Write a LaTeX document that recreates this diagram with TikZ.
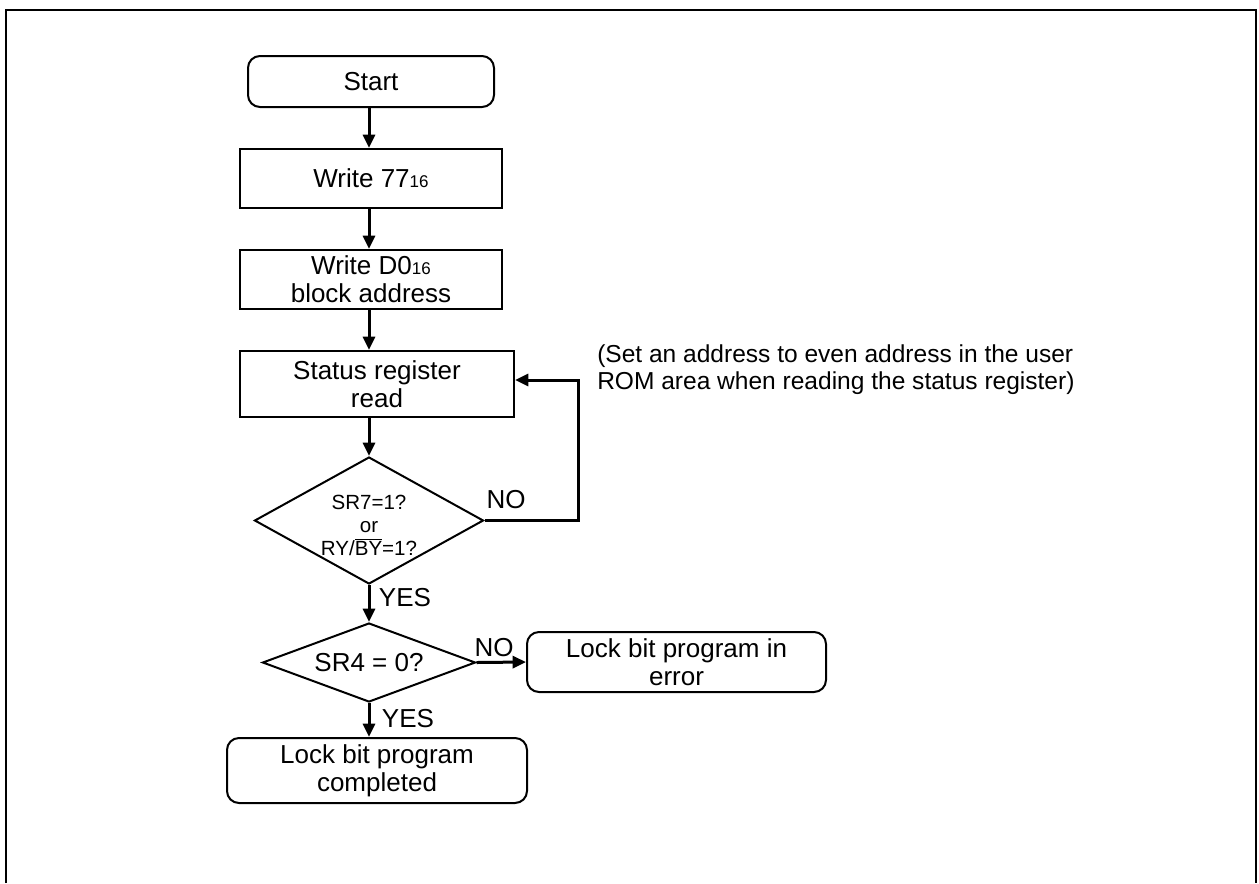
\documentclass[tikz,border=0pt]{standalone}
\usepackage{fontspec}
\setmainfont{Liberation Sans}
\usetikzlibrary{arrows.meta,shapes.geometric}
\newcommand\mfnt{\fontsize{19.5pt}{21pt}\selectfont}
\newcommand\dfnt{\fontsize{15.4pt}{17.2pt}\selectfont}
\newcommand\afnt{\fontsize{18.4pt}{20.25pt}\selectfont}
\newcommand\subsz[1]{{\fontsize{12.75pt}{14pt}\selectfont #1}}
\begin{document}
\begin{tikzpicture}[x=0.75pt,y=-0.75pt,
  box/.style={draw,line width=1.5pt,inner sep=0pt,align=center,font=\mfnt},
  rbox/.style={box,rounded corners=9pt},
  dia/.style={draw,diamond,line width=1.5pt,inner sep=0pt},
  conn/.style={line width=2.25pt,-{Triangle[length=10pt,width=9pt]}},
  lbl/.style={inner sep=0pt,font=\mfnt}]
\useasboundingbox (0,0) rectangle (1259,883);
\draw[line width=1.5pt] (6,883) -- (6,10) -- (1256,10) -- (1256,883);

\node[rbox,minimum width=184.5pt,minimum height=38.25pt] (start) at (371,81.5) {Start};
\node[box,minimum width=196.5pt,minimum height=44.25pt] (w77) at (371,178.5) {Write 77\subsz{16}};
\node[box,minimum width=196.5pt,minimum height=44.25pt] (wd0) at (371,279.5) {Write D0\subsz{16}\\block address};
\node[box,minimum width=205.5pt,minimum height=49.5pt] (status) at (377,384) {Status register\\read};
\node[dia,minimum width=171.75pt,minimum height=95.25pt] (d1) at (369,520.5) {};
\node[align=center,inner sep=0pt,font=\dfnt] (d1t) at (369,525) {SR7=1?\\or\\RY/$\overline{\mbox{BY}}$=1?};
\node[dia,minimum width=159.75pt,minimum height=59.25pt] (d2) at (369,662.5) {};
\node[lbl] (d2t) at (369,662.5) {SR4 = 0?};
\node[rbox,minimum width=224.25pt,minimum height=45pt] (err) at (676.5,662) {Lock bit program in\\error};
\node[rbox,minimum width=225pt,minimum height=48.75pt] (done) at (377,770.5) {Lock bit program\\completed};

\node[anchor=north west,align=left,inner sep=0pt,font=\afnt] (note) at (597,344)
  {(Set an address to even address in the user\\ROM area when reading the status register)};

\node[lbl] (no1) at (506,500) {NO};
\node[lbl] (yes1) at (405,598) {YES};
\node[lbl] (no2) at (494,648) {NO};
\node[lbl] (yes2) at (408,719) {YES};

\coordinate (lp) at (578,380);
\draw[conn] (start.south -| d1.north) -- (w77.north -| d1.north);
\draw[conn] (w77.south -| d1.north) -- (wd0.north -| d1.north);
\draw[conn] (wd0.south -| d1.north) -- (status.north -| d1.north);
\draw[conn] (status.south -| d1.north) -- (d1.north);
\draw[conn] (d1.east) -| (lp) -- (status.east |- lp);
\draw[conn] (d1.south) -- (d2.north);
\draw[conn] (d2.east) -- (err.west);
\draw[conn] (d2.south) -- (d2.south |- done.north);
\end{tikzpicture}
\end{document}
